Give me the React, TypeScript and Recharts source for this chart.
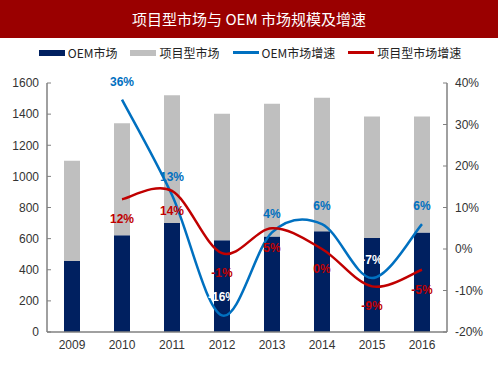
import React from 'react';
import { ComposedChart, Bar, Line, XAxis, YAxis, Legend, LabelList } from 'recharts';

const years = ['2009', '2010', '2011', '2012', '2013', '2014', '2015', '2016'];
const oemMarket = [456, 621, 700, 589, 614, 648, 604, 640];
const projectMarket = [644, 721, 821, 814, 852, 858, 780, 744];
const oemGrowth = [null, 36, 13, -16, 4, 6, -7, 6];
const projectGrowth = [null, 12, 14, -1, 5, 0, -9, -5];
const leftTicks = [0, 200, 400, 600, 800, 1000, 1200, 1400, 1600];
const rightTicks = [-20, -10, 0, 10, 20, 30, 40];
const legendOrder = ['OEM市场', '项目型市场', 'OEM市场增速', '项目型市场增速'];

const data = years.map((year, i) => ({
  year,
  oem: oemMarket[i],
  project: projectMarket[i],
  oemGrowth: oemGrowth[i],
  projectGrowth: projectGrowth[i],
}));

const FONT = '"Liberation Sans", Arial, sans-serif';
const CJK = '"Noto Sans CJK SC", sans-serif';

// Excel-like smoothed line (Catmull-Rom through the points)
const smoothCurve = (context: any) => {
  let pts: number[][] = [];
  return {
    areaStart() {},
    areaEnd() {},
    lineStart() {
      pts = [];
    },
    point(x: number, y: number) {
      pts.push([+x, +y]);
    },
    lineEnd() {
      const n = pts.length;
      if (!n) return;
      context.moveTo(pts[0][0], pts[0][1]);
      for (let i = 0; i < n - 1; i++) {
        const p0 = pts[Math.max(i - 1, 0)];
        const p1 = pts[i];
        const p2 = pts[i + 1];
        const p3 = pts[Math.min(i + 2, n - 1)];
        context.bezierCurveTo(
          p1[0] + (p2[0] - p0[0]) / 6,
          p1[1] + (p2[1] - p0[1]) / 6,
          p2[0] - (p3[0] - p1[0]) / 6,
          p2[1] - (p3[1] - p1[1]) / 6,
          p2[0],
          p2[1]
        );
      }
    },
  };
};

const blueLabel = (props: any) => {
  const { x, y, value } = props;
  if (value == null) return null;
  return (
    <text x={x} y={y - 14} textAnchor="middle" fill={value < 0 ? '#ffffff' : '#0070C0'}
      fontFamily={FONT} fontSize={12} fontWeight="bold">
      {value}%
    </text>
  );
};

const redLabel = (props: any) => {
  const { x, y, value } = props;
  if (value == null) return null;
  return (
    <text x={x} y={y + 24} textAnchor="middle" fill="#C00000"
      fontFamily={FONT} fontSize={12} fontWeight="bold">
      {value}%
    </text>
  );
};

const renderLegend = (props: any) => {
  const payload = [...props.payload].sort(
    (a: any, b: any) => legendOrder.indexOf(a.value) - legendOrder.indexOf(b.value)
  );
  return (
    <div style={{ display: 'flex', justifyContent: 'center', gap: 13, fontFamily: CJK, fontSize: 12, color: '#222' }}>
      {payload.map((entry: any) => (
        <div key={entry.value} style={{ display: 'flex', alignItems: 'center' }}>
          <span
            style={{
              display: 'inline-block',
              width: 26,
              height: entry.type === 'line' ? 2.5 : 6,
              background: entry.color,
              marginRight: 3,
            }}
          />
          <span>{entry.value}</span>
        </div>
      ))}
    </div>
  );
};

const App: React.FC = () => {
  return (
    <div style={{ position: 'absolute', left: 0, top: 0, width: 500, height: 375, background: '#fff' }}>
      <div
        style={{
          position: 'absolute', left: 0, top: 0, width: 498, height: 38, background: '#9A0000',
          color: '#fff', fontFamily: CJK, fontSize: 15, lineHeight: '38px', textAlign: 'center',
        }}
      >
        项目型市场与 OEM 市场规模及增速
      </div>
      <div style={{ position: 'absolute', left: 0, top: 0 }}>
        <ComposedChart width={500} height={375} data={data} margin={{ top: 66, right: 8, bottom: 13, left: 7 }}>
          <Legend content={renderLegend} verticalAlign="top" wrapperStyle={{ top: 44, left: 0, width: 500 }} />
          <XAxis dataKey="year" axisLine={{ stroke: '#808080', strokeWidth: 1.5 }} tickLine={false}
            tick={{ fill: '#333', fontSize: 12, fontFamily: FONT }} height={30} />
          <YAxis yAxisId="left" domain={[0, 1600]} ticks={leftTicks} width={40}
            axisLine={{ stroke: '#808080', strokeWidth: 1.5 }} tickLine={{ stroke: '#808080' }}
            tickSize={-4} tickMargin={12} tick={{ fill: '#333', fontSize: 12, fontFamily: FONT }} />
          <YAxis yAxisId="right" orientation="right" domain={[-20, 40]} ticks={rightTicks} width={45}
            axisLine={{ stroke: '#808080', strokeWidth: 1.5 }} tickLine={{ stroke: '#808080' }}
            tickSize={-4} tickMargin={12} tickFormatter={(v: number) => `${v}%`}
            tick={{ fill: '#333', fontSize: 12, fontFamily: FONT }} />
          <Bar yAxisId="left" dataKey="oem" name="OEM市场" stackId="a" fill="#002060" barSize={16} isAnimationActive={false} />
          <Bar yAxisId="left" dataKey="project" name="项目型市场" stackId="a" fill="#BFBFBF" barSize={16} isAnimationActive={false} />
          <Line yAxisId="right" dataKey="oemGrowth" name="OEM市场增速" type={smoothCurve as any} stroke="#0070C0"
            strokeWidth={2.5} dot={false} legendType="line" isAnimationActive={false}>
            <LabelList dataKey="oemGrowth" content={blueLabel} />
          </Line>
          <Line yAxisId="right" dataKey="projectGrowth" name="项目型市场增速" type={smoothCurve as any} stroke="#C00000"
            strokeWidth={2.5} dot={false} legendType="line" isAnimationActive={false}>
            <LabelList dataKey="projectGrowth" content={redLabel} />
          </Line>
        </ComposedChart>
      </div>
    </div>
  );
};

export default App;
